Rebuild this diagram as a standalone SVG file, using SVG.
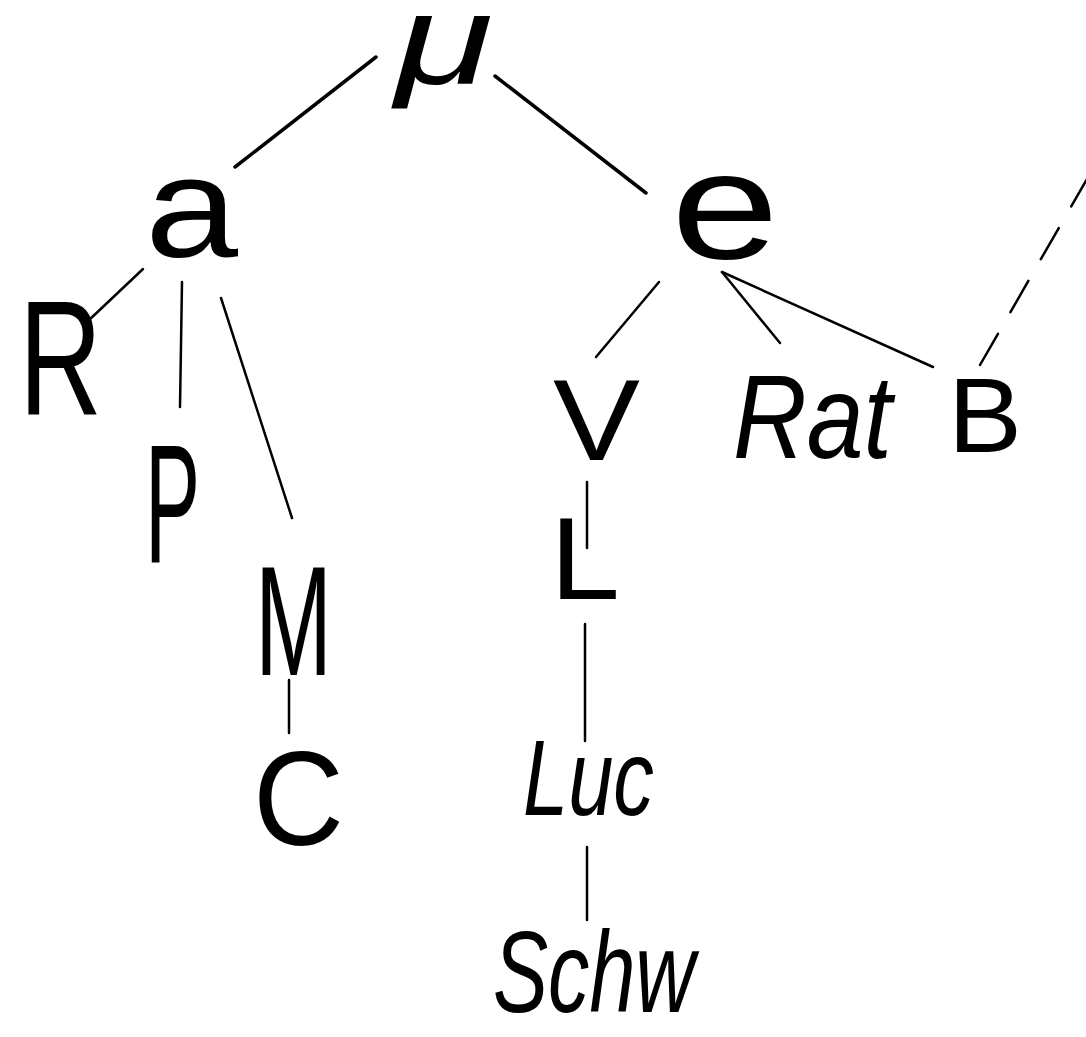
<svg xmlns="http://www.w3.org/2000/svg" width="1086" height="1037" viewBox="0 0 1086 1037">
<style>
.t{font-family:"Liberation Sans","DejaVu Sans",sans-serif;fill:#000;}
.i{font-style:italic;}
.e{stroke:#000;stroke-linecap:round;fill:none;stroke-width:2.5;}
.th{stroke-width:3.5;}
.d{stroke-dasharray:36 25;}
</style>
<rect width="1086" height="1037" fill="#fff"/>
<g id="connectors">
<line class="e th" x1="235" y1="167" x2="376" y2="57"/>
<line class="e th" x1="495" y1="76" x2="646" y2="193"/>
<line class="e" x1="143" y1="269" x2="88" y2="321"/>
<line class="e" x1="182" y1="282" x2="180" y2="407"/>
<line class="e" x1="221" y1="298" x2="292" y2="518"/>
<line class="e" x1="289" y1="680" x2="289" y2="733"/>
<line class="e" x1="659" y1="282" x2="596" y2="357"/>
<line class="e" x1="722" y1="272" x2="780" y2="343"/>
<line class="e" x1="722" y1="272" x2="933" y2="367"/>
<line class="e d" x1="980" y1="365" x2="1095" y2="165"/>
<line class="e" x1="587" y1="482" x2="587" y2="548"/>
<line class="e" x1="585" y1="624" x2="585" y2="741"/>
<line class="e" x1="587" y1="847" x2="587" y2="920"/>
</g>
<g id="node-mu"><text class="t i" x="395" y="84" font-size="128" textLength="98" lengthAdjust="spacingAndGlyphs">μ</text></g>
<g id="node-a"><text class="t" x="145" y="257" font-size="142" textLength="93" lengthAdjust="spacingAndGlyphs">a</text></g>
<g id="node-e"><text class="t" x="671" y="259" font-size="152" textLength="108" lengthAdjust="spacingAndGlyphs">e</text></g>
<g id="node-R"><text class="t" x="19" y="415" font-size="163" textLength="83" lengthAdjust="spacingAndGlyphs">R</text></g>
<g id="node-P"><text class="t" x="145" y="562" font-size="168" textLength="55" lengthAdjust="spacingAndGlyphs">P</text></g>
<g id="node-M"><text class="t" x="255" y="675" font-size="155" textLength="77" lengthAdjust="spacingAndGlyphs">M</text></g>
<g id="node-C"><text class="t" x="253" y="845" font-size="134" textLength="91" lengthAdjust="spacingAndGlyphs">C</text></g>
<g id="node-V"><text class="t" x="553" y="460" font-size="115" textLength="87" lengthAdjust="spacingAndGlyphs">V</text></g>
<g id="node-Rat"><text class="t i" x="733" y="458" font-size="119" textLength="159" lengthAdjust="spacingAndGlyphs">Rat</text></g>
<g id="node-B"><text class="t" x="948" y="452" font-size="105" textLength="74" lengthAdjust="spacingAndGlyphs">B</text></g>
<g id="node-L"><text class="t" x="550" y="599" font-size="117" textLength="70" lengthAdjust="spacingAndGlyphs">L</text></g>
<g id="node-Luc"><text class="t i" x="523" y="815" font-size="108" textLength="131" lengthAdjust="spacingAndGlyphs">Luc</text></g>
<g id="node-Schw"><text class="t i" x="493" y="1012" font-size="115" textLength="202" lengthAdjust="spacingAndGlyphs">Schw</text></g>
</svg>
